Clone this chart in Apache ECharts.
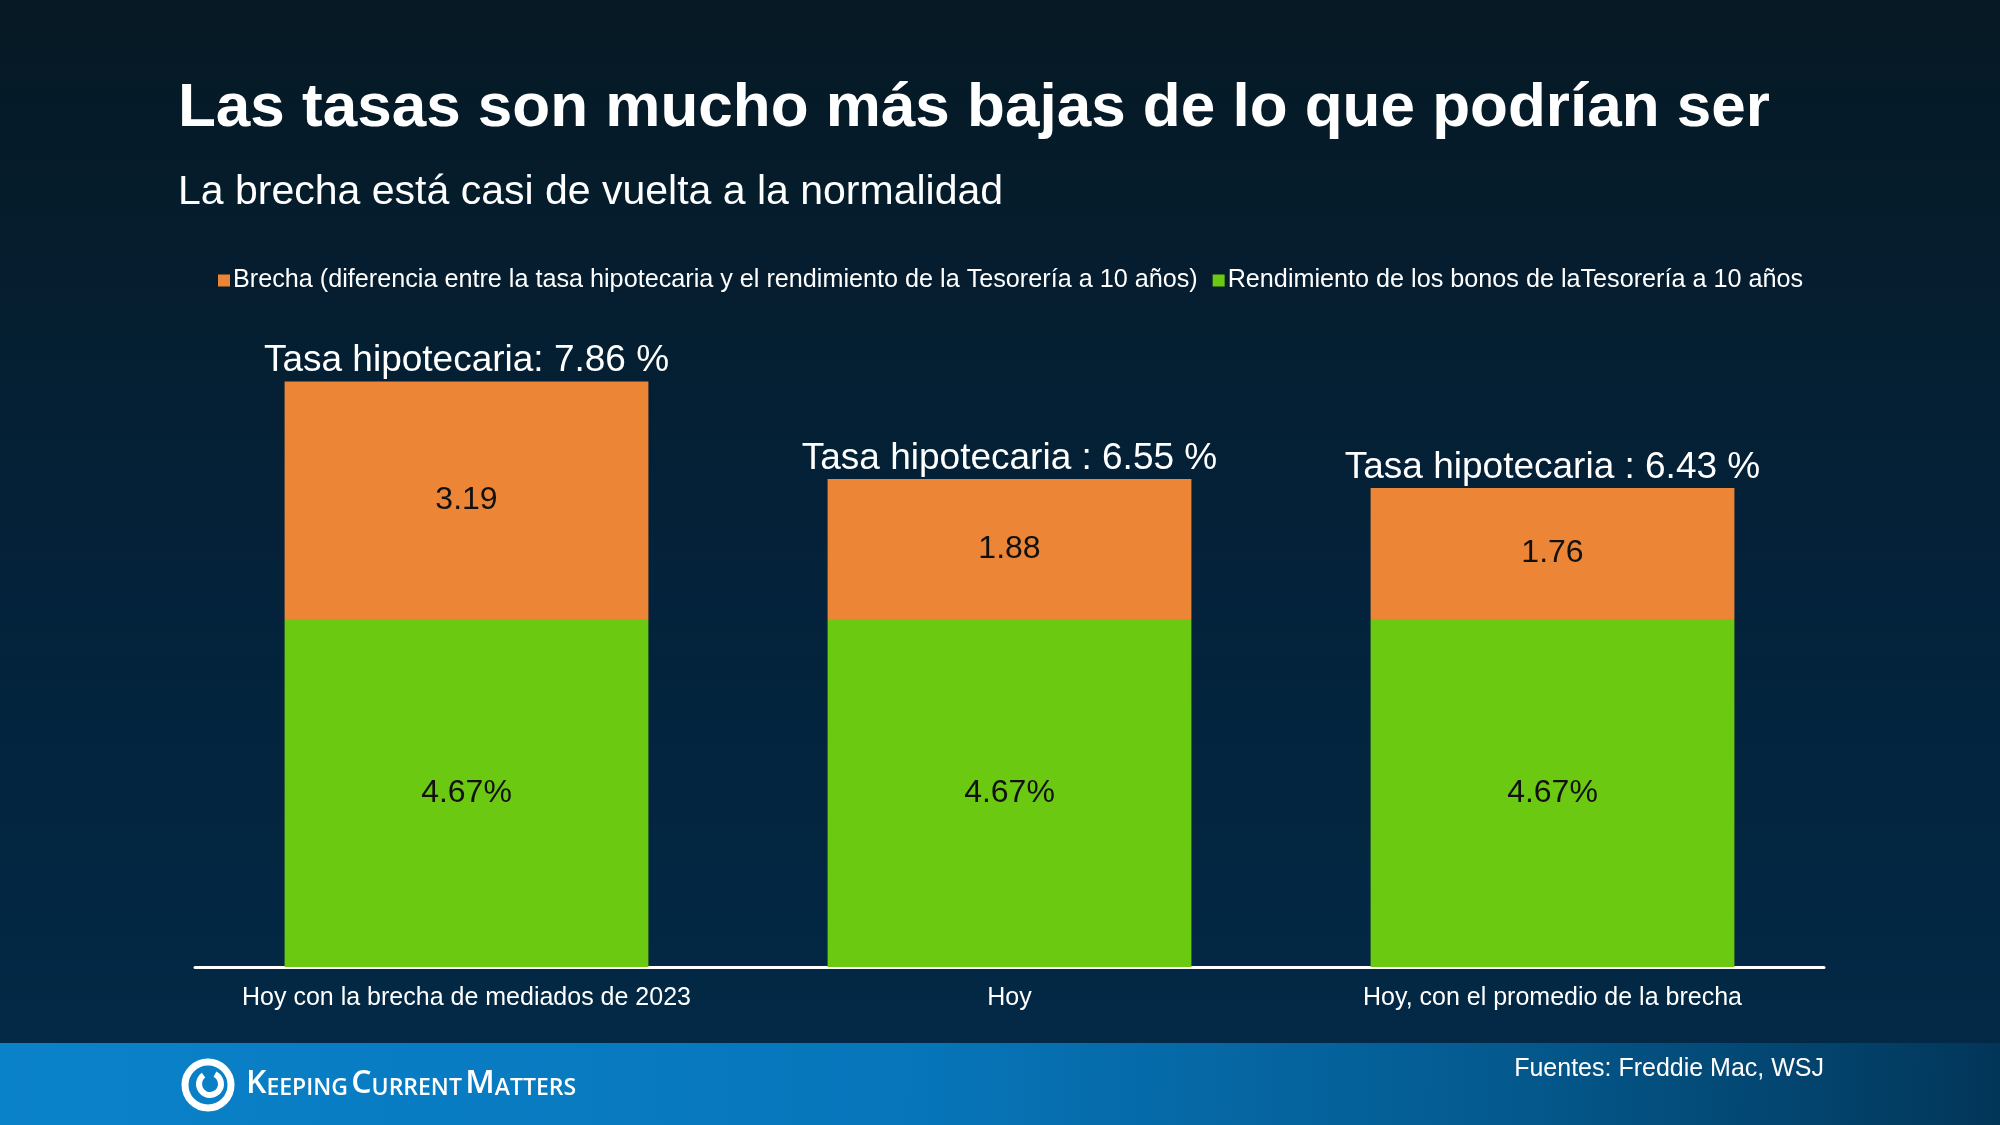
<!DOCTYPE html>
<html>
<head>
<meta charset="utf-8">
<script src="https://cdn.jsdelivr.net/npm/echarts/dist/echarts.min.js"></script>
<style>
  html, body { margin: 0; padding: 0; background: #041e30; }
  #main { width: 2000px; height: 1125px; }
</style>
</head>
<body>
<div id="main"></div>
<script>
// datos
const categories = ['Hoy con la brecha de mediados de 2023', 'Hoy', 'Hoy, con el promedio de la brecha'];
const treasuryYield = [4.67, 4.67, 4.67];
const spread = [3.19, 1.88, 1.76];
const mortgageRate = [7.86, 6.55, 6.43];
const rateLabels = ['Tasa hipotecaria: ', 'Tasa hipotecaria : ', 'Tasa hipotecaria : '];
const legendNames = [
  'Brecha (diferencia entre la tasa hipotecaria y el rendimiento de la Tesorería a 10 años)',
  'Rendimiento de los bonos de laTesorería a 10 años'
];

const FONT = '"Liberation Sans", Arial, Helvetica, sans-serif';
const chart = echarts.init(document.getElementById('main'));

var option = {
  backgroundColor: new echarts.graphic.LinearGradient(0, 0, 0, 1, [
    { offset: 0, color: '#061924' },
    { offset: 0.5, color: '#04223a' },
    { offset: 1, color: '#022a48' }
  ]),
  animation: false,
  title: [
    {
      text: 'Las tasas son mucho más bajas de lo que podrían ser',
      left: 173,
      top: 72,
      textStyle: { color: '#fff', fontFamily: FONT, fontWeight: 'bold', fontSize: 62, lineHeight: 64 }
    },
    {
      text: 'La brecha está casi de vuelta a la normalidad',
      left: 173,
      top: 166,
      textStyle: { color: '#fff', fontFamily: FONT, fontWeight: 'normal', fontSize: 41, lineHeight: 44 }
    }
  ],
  legend: {
    data: legendNames,
    left: 213,
    top: 263,
    icon: 'rect',
    itemWidth: 12,
    itemHeight: 12,
    itemGap: 15,
    textStyle: { color: '#fff', fontFamily: FONT, fontSize: 25.2, padding: [0, 0, 0, -2] }
  },
  grid: { left: 195, right: 176, top: 222, bottom: 158 },
  xAxis: {
    type: 'category',
    data: categories,
    axisLine: { lineStyle: { color: '#ffffff', width: 3 } },
    axisTick: { show: false },
    axisLabel: { interval: 0, color: '#fff', fontFamily: FONT, fontSize: 25, margin: 19 }
  },
  yAxis: {
    type: 'value',
    min: 0,
    max: 10,
    show: false,
    splitLine: { show: false }
  },
  series: [
    {
      name: legendNames[1],
      type: 'bar',
      stack: 'tasa',
      barWidth: '67%',
      data: treasuryYield,
      itemStyle: { color: '#6cc911' },
      label: {
        show: true,
        position: 'inside',
        formatter: (p) => p.value.toFixed(2) + '%',
        color: '#111',
        fontFamily: FONT,
        fontSize: 32
      }
    },
    {
      name: legendNames[0],
      type: 'bar',
      stack: 'tasa',
      data: spread,
      itemStyle: { color: '#ed8537' },
      label: {
        show: true,
        position: 'inside',
        formatter: (p) => p.value.toFixed(2),
        color: '#111',
        fontFamily: FONT,
        fontSize: 32
      }
    },
    {
      name: 'total',
      type: 'scatter',
      data: mortgageRate,
      symbolSize: 0,
      itemStyle: { color: '#ffffff' },
      label: {
        show: true,
        position: 'top',
        distance: 2,
        formatter: (p) => rateLabels[p.dataIndex] + p.value.toFixed(2) + ' %',
        color: '#ffffff',
        opacity: 1,
        fontFamily: FONT,
        fontSize: 37
      }
    }
  ],
  graphic: [
    {
      type: 'rect',
      shape: { x: 0, y: 1043, width: 2000, height: 82 },
      style: {
        fill: new echarts.graphic.LinearGradient(0, 0, 1, 0.4, [
          { offset: 0, color: '#0a82ca' },
          { offset: 0.45, color: '#0776bb' },
          { offset: 0.75, color: '#045a8f' },
          { offset: 1, color: '#023659' }
        ])
      },
      z: 0
    },
    // logo
    {
      type: 'circle',
      shape: { cx: 208, cy: 1085, r: 23 },
      style: { fill: 'none', stroke: '#fff', lineWidth: 7 },
      z: 10
    },
    {
      type: 'arc',
      shape: { cx: 210, cy: 1084, r: 11, startAngle: -Math.PI * 0.35, endAngle: Math.PI * 1.3 },
      style: { fill: 'none', stroke: '#fff', lineWidth: 6 },
      z: 10
    },
    {
      type: 'text',
      left: 246,
      top: 1068,
      style: {
        text: '{b|K}{s|EEPING} {b|C}{s|URRENT} {b|M}{s|ATTERS}',
        fill: '#fff',
        rich: {
          b: { fontFamily: '"Open Sans", "Noto Sans", sans-serif', fontWeight: 600, fontSize: 32, color: '#fff', verticalAlign: 'bottom', lineHeight: 36 },
          s: { fontFamily: '"Open Sans", "Noto Sans", sans-serif', fontWeight: 600, fontSize: 23, color: '#fff', verticalAlign: 'bottom', lineHeight: 30 }
        }
      },
      z: 10
    },
    {
      type: 'text',
      right: 176,
      top: 1057,
      style: {
        text: 'Fuentes: Freddie Mac, WSJ',
        fill: '#fff',
        font: '25px ' + FONT
      },
      z: 10
    }
  ]
};
chart.setOption(option);
</script>
</body>
</html>
